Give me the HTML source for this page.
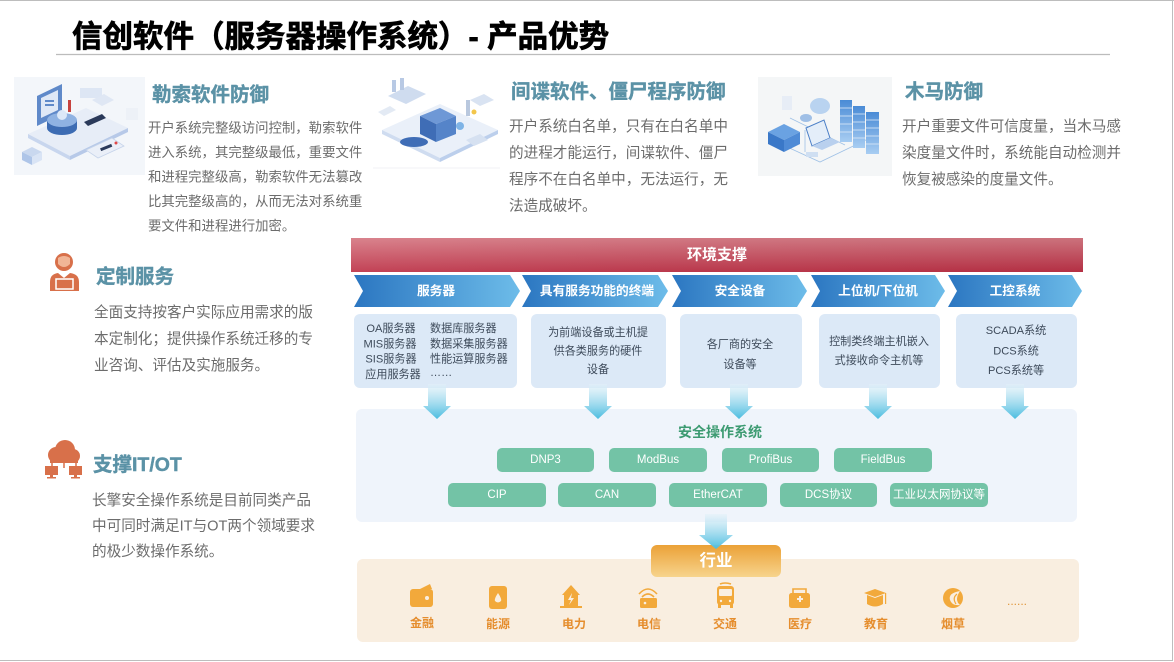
<!DOCTYPE html>
<html><head><meta charset="utf-8">
<style>
html,body{margin:0;padding:0;background:#fff;}
svg{display:block;}
text{font-family:"Liberation Sans","Noto Sans CJK SC",sans-serif;}
.ttl{font-size:30.5px;font-weight:bold;fill:#000;stroke:#000;stroke-width:0.7px;}
.h{font-size:19.5px;font-weight:bold;fill:#5b92a6;stroke:#5b92a6;stroke-width:0.4px;}
.b1{font-size:13.4px;fill:#6c6c6c;}
.b2{font-size:14.6px;fill:#6c6c6c;}
.ch{font-size:12.7px;font-weight:bold;fill:#fff;}
.bx{font-size:11.1px;fill:#3d4a5a;}
.pl{font-size:11.5px;fill:#fff;}
.ind{font-size:12px;font-weight:bold;fill:#e58d2d;}
</style></head>
<body>
<svg width="1174" height="662" viewBox="0 0 1174 662" xmlns="http://www.w3.org/2000/svg">
<defs>
<linearGradient id="gRed" x1="0" y1="0" x2="0" y2="1">
<stop offset="0" stop-color="#d67883"/><stop offset="1" stop-color="#bd3247"/>
</linearGradient>
<linearGradient id="gRedH" x1="0" y1="0" x2="1" y2="0">
<stop offset="0" stop-color="#ffffff" stop-opacity="0.08"/><stop offset="1" stop-color="#000" stop-opacity="0.05"/>
</linearGradient>
<linearGradient id="gBlue" x1="0" y1="0" x2="1" y2="0">
<stop offset="0" stop-color="#2b76c1"/><stop offset="1" stop-color="#6dbce9"/>
</linearGradient>
<linearGradient id="gArr" x1="0" y1="0" x2="0" y2="1">
<stop offset="0" stop-color="#e3f1f9" stop-opacity="0.6"/><stop offset="1" stop-color="#4bbde0"/>
</linearGradient>
<linearGradient id="gOr" x1="0" y1="0" x2="0" y2="1">
<stop offset="0" stop-color="#eba137"/><stop offset="1" stop-color="#f7d48d"/>
</linearGradient>
<linearGradient id="gSrv" x1="0" y1="0" x2="0" y2="1">
<stop offset="0" stop-color="#4a8bd6"/><stop offset="1" stop-color="#a8cdf2"/>
</linearGradient>
</defs>

<!-- frame -->
<line x1="0" y1="0.5" x2="1174" y2="0.5" stroke="#bdbdbd" stroke-width="1"/>
<line x1="1172.5" y1="0" x2="1172.5" y2="661" stroke="#bdbdbd" stroke-width="1"/>
<line x1="0" y1="660.5" x2="1173" y2="660.5" stroke="#bdbdbd" stroke-width="1"/>

<!-- title -->
<text class="ttl" x="72" y="37" dominant-baseline="central">信创软件（服务器操作系统）- 产品优势</text>
<line x1="56" y1="54.5" x2="1110" y2="54.5" stroke="#bcbcbc" stroke-width="1.3"/>

<!-- illustration 1 -->
<rect x="14" y="77" width="131" height="98" fill="#f3f6fa"/>
<polygon points="28,134 86,108 128,128 70,156" fill="#e7edf7"/>
<polygon points="28,134 70,156 70,160 28,138" fill="#c8d6ee"/>
<polygon points="70,156 128,128 128,132 70,160" fill="#b7c9e8"/>
<polygon points="37,96 62,84 62,114 37,126" fill="#5f89c9"/>
<polygon points="41,98 58,90 58,110 41,118" fill="#dfe8f6"/>
<rect x="45" y="100" width="9" height="2" fill="#5f89c9"/><rect x="45" y="104" width="9" height="2" fill="#5f89c9"/>
<ellipse cx="62" cy="128" rx="15" ry="7" fill="#3d6cb3"/>
<rect x="47" y="120" width="30" height="8" fill="#3d6cb3"/>
<ellipse cx="62" cy="120" rx="15" ry="7" fill="#8fb2e2"/>
<circle cx="62" cy="115" r="5" fill="#dce8f8"/>
<rect x="80" y="88" width="22" height="10" fill="#dde6f4"/>
<rect x="68" y="100" width="3" height="12" fill="#c7433f"/>
<polygon points="84,122 102,114 106,118 88,126" fill="#2b3a5a"/>
<polygon points="86,150 112,138 124,146 98,158" fill="#eaeff8" stroke="#c6d4ea" stroke-width="0.8"/>
<rect x="100" y="146" width="12" height="3" fill="#2b3a5a" transform="rotate(-22 106 147)"/>
<circle cx="116" cy="143" r="1.5" fill="#e04848"/>
<polygon points="22,152 32,147 42,152 32,157" fill="#c9d8ef"/>
<polygon points="22,152 32,157 32,165 22,160" fill="#aec5e8"/>
<polygon points="32,157 42,152 42,160 32,165" fill="#d9e4f5"/>
<polygon points="92,100 104,94 114,100 102,106" fill="#dfe7f4"/>
<rect x="126" y="108" width="12" height="12" fill="#edf1f7"/>

<!-- illustration 2 -->
<line x1="373" y1="168" x2="500" y2="168" stroke="#f0f2f5" stroke-width="1"/>
<polygon points="382,130 440,104 498,130 440,158" fill="#eaf0f9"/>
<polygon points="382,130 440,158 440,162 382,134" fill="#cfdcf0"/>
<polygon points="440,158 498,130 498,134 440,162" fill="#bccfec"/>
<polygon points="388,96 408,86 426,94 406,104" fill="#cfdcef"/>
<rect x="392" y="80" width="4" height="12" fill="#b8c9e4"/><rect x="400" y="78" width="4" height="12" fill="#b8c9e4"/>
<polygon points="420,116 440,108 456,116 436,124" fill="#6e98d6"/>
<polygon points="420,116 436,124 436,142 420,134" fill="#3f6db6"/>
<polygon points="436,124 456,116 456,134 436,142" fill="#5584c9"/>
<ellipse cx="414" cy="142" rx="14" ry="5" fill="#3f6db6"/>
<circle cx="460" cy="126" r="4" fill="#7fb4e6"/>
<rect x="466" y="100" width="4" height="16" fill="#b9c8de"/>
<circle cx="474" cy="112" r="2.5" fill="#f3c64a"/>
<polygon points="470,100 484,94 494,100 480,106" fill="#d9e3f2"/>
<polygon points="378,112 390,106 396,110 384,116" fill="#e3eaf4"/>
<polygon points="466,140 480,134 488,140 474,146" fill="#d6e1f1"/>

<!-- illustration 3 -->
<rect x="758" y="77" width="134" height="99" fill="#f4f6f7"/>
<path d="M772,140 L820,162 L870,138 M790,118 L845,145 M805,152 L805,130" stroke="#9fc1e6" stroke-width="0.8" fill="none"/>
<rect x="840" y="100" width="12" height="42" fill="url(#gSrv)"/>
<rect x="853" y="106" width="12" height="42" fill="url(#gSrv)"/>
<rect x="866" y="112" width="13" height="42" fill="url(#gSrv)"/>
<g stroke="#dbe9f8" stroke-width="0.8">
<line x1="840" y1="108" x2="852" y2="108"/><line x1="840" y1="116" x2="852" y2="116"/><line x1="840" y1="124" x2="852" y2="124"/><line x1="840" y1="132" x2="852" y2="132"/>
<line x1="853" y1="114" x2="865" y2="114"/><line x1="853" y1="122" x2="865" y2="122"/><line x1="853" y1="130" x2="865" y2="130"/><line x1="853" y1="138" x2="865" y2="138"/>
<line x1="866" y1="120" x2="879" y2="120"/><line x1="866" y1="128" x2="879" y2="128"/><line x1="866" y1="136" x2="879" y2="136"/><line x1="866" y1="144" x2="879" y2="144"/>
</g>
<polygon points="768,132 784,124 800,132 784,140" fill="#6aa2e2"/>
<polygon points="768,132 784,140 784,152 768,144" fill="#3a78c8"/>
<polygon points="784,140 800,132 800,144 784,152" fill="#4f8bd6"/>
<polygon points="806,128 824,120 830,138 812,146" fill="#e4eef9" stroke="#4b7fc7" stroke-width="1"/>
<polygon points="812,146 830,138 840,142 822,150" fill="#b9d0ee"/>
<ellipse cx="820" cy="106" rx="10" ry="8" fill="#b9d3f0"/>
<ellipse cx="806" cy="118" rx="6" ry="4" fill="#9fbfe6"/>
<rect x="782" y="96" width="10" height="14" fill="#e7edf6"/>
<rect x="806" y="152" width="12" height="5" fill="#cfdff2"/>

<!-- section headings & bodies -->
<text class="h" x="152" y="95" dominant-baseline="central">勒索软件防御</text>
<text class="b1" x="148" y="128" dominant-baseline="central">开户系统完整级访问控制，勒索软件</text>
<text class="b1" x="148" y="152.5" dominant-baseline="central">进入系统，其完整级最低，重要文件</text>
<text class="b1" x="148" y="177" dominant-baseline="central">和进程完整级高，勒索软件无法篡改</text>
<text class="b1" x="148" y="201.5" dominant-baseline="central">比其完整级高的，从而无法对系统重</text>
<text class="b1" x="148" y="226" dominant-baseline="central">要文件和进程进行加密。</text>

<text class="h" x="511" y="92" dominant-baseline="central">间谍软件、僵尸程序防御</text>
<text class="b2" x="509" y="127" dominant-baseline="central">开户系统白名单，只有在白名单中</text>
<text class="b2" x="509" y="153.5" dominant-baseline="central">的进程才能运行，间谍软件、僵尸</text>
<text class="b2" x="509" y="180" dominant-baseline="central">程序不在白名单中，无法运行，无</text>
<text class="b2" x="509" y="206.5" dominant-baseline="central">法造成破坏。</text>

<text class="h" x="905" y="92" dominant-baseline="central">木马防御</text>
<text class="b2" x="902" y="127" dominant-baseline="central">开户重要文件可信度量，当木马感</text>
<text class="b2" x="902" y="153.5" dominant-baseline="central">染度量文件时，系统能自动检测并</text>
<text class="b2" x="902" y="180" dominant-baseline="central">恢复被感染的度量文件。</text>

<!-- 定制服务 icon -->
<g fill="#d8704a">
<circle cx="64" cy="262" r="9"/>
<path d="M50,291 L50,282 Q50,274 58,273 L64,278 L70,273 Q79,274 79,282 L79,291 Z"/>
</g>
<path d="M58,258 Q64,254 70,258 L70,264 Q64,270 58,264 Z" fill="#f1b596"/>
<rect x="56" y="279" width="17" height="10" fill="none" stroke="#fff" stroke-width="1.5"/>
<text class="h" x="96" y="277" dominant-baseline="central">定制服务</text>
<text class="b2" x="94" y="313" dominant-baseline="central">全面支持按客户实际应用需求的版</text>
<text class="b2" x="94" y="339.5" dominant-baseline="central">本定制化；提供操作系统迁移的专</text>
<text class="b2" x="94" y="366" dominant-baseline="central">业咨询、评估及实施服务。</text>

<!-- 支撑IT/OT icon -->
<g fill="#d8704a">
<circle cx="56" cy="455" r="8"/><circle cx="65" cy="450" r="10"/><circle cx="73" cy="456" r="7"/>
<rect x="50" y="455" width="28" height="8"/>
<rect x="45" y="466" width="13" height="9"/><rect x="50" y="475" width="3" height="3"/><rect x="47" y="477" width="9" height="1.5"/>
<rect x="69" y="466" width="13" height="9"/><rect x="74" y="475" width="3" height="3"/><rect x="71" y="477" width="9" height="1.5"/>
</g>
<path d="M64,462 L64,468 M52,466 L52,462 L76,462 L76,466" stroke="#d8704a" stroke-width="1.5" fill="none"/>
<text class="h" x="93" y="465" dominant-baseline="central">支撑IT/OT</text>
<text class="b2" x="92" y="501" dominant-baseline="central">长擎安全操作系统是目前同类产品</text>
<text class="b2" x="92" y="526.5" dominant-baseline="central">中可同时满足IT与OT两个领域要求</text>
<text class="b2" x="92" y="552" dominant-baseline="central">的极少数操作系统。</text>

<!-- 环境支撑 bar -->
<rect x="351" y="238" width="732" height="34" fill="url(#gRed)"/>
<rect x="351" y="238" width="732" height="34" fill="url(#gRedH)"/>
<text x="717" y="255" dominant-baseline="central" text-anchor="middle" style="font-size:15px;font-weight:bold;fill:#fff">环境支撑</text>

<!-- chevrons -->
<polygon points="354,275 510,275 520,291 510,307 354,307 363,291" fill="url(#gBlue)"/>
<polygon points="522,275 658,275 668,291 658,307 522,307 531,291" fill="url(#gBlue)"/>
<polygon points="672,275 797,275 807,291 797,307 672,307 681,291" fill="url(#gBlue)"/>
<polygon points="811,275 935,275 945,291 935,307 811,307 820,291" fill="url(#gBlue)"/>
<polygon points="948,275 1072,275 1082,291 1072,307 948,307 957,291" fill="url(#gBlue)"/>
<text class="ch" x="436" y="291" dominant-baseline="central" text-anchor="middle">服务器</text>
<text class="ch" x="597" y="291" dominant-baseline="central" text-anchor="middle">具有服务功能的终端</text>
<text class="ch" x="740" y="291" dominant-baseline="central" text-anchor="middle">安全设备</text>
<text class="ch" x="878" y="291" dominant-baseline="central" text-anchor="middle">上位机/下位机</text>
<text class="ch" x="1015" y="291" dominant-baseline="central" text-anchor="middle">工控系统</text>

<!-- boxes -->
<rect x="354" y="314" width="163" height="74" rx="6" fill="#dce9f7"/>
<rect x="531" y="314" width="135" height="74" rx="6" fill="#dce9f7"/>
<rect x="680" y="314" width="122" height="74" rx="6" fill="#dce9f7"/>
<rect x="819" y="314" width="121" height="74" rx="6" fill="#dce9f7"/>
<rect x="956" y="314" width="121" height="74" rx="6" fill="#dce9f7"/>

<g text-anchor="middle">
<text class="bx" x="391" y="329" dominant-baseline="central">OA服务器</text>
<text class="bx" x="390" y="344.5" dominant-baseline="central">MIS服务器</text>
<text class="bx" x="391" y="359.5" dominant-baseline="central">SIS服务器</text>
<text class="bx" x="393" y="375" dominant-baseline="central">应用服务器</text>
</g>
<text class="bx" x="430" y="329" dominant-baseline="central">数据库服务器</text>
<text class="bx" x="430" y="344.5" dominant-baseline="central">数据采集服务器</text>
<text class="bx" x="430" y="359.5" dominant-baseline="central">性能运算服务器</text>
<text class="bx" x="430" y="373" dominant-baseline="central">……</text>

<g text-anchor="middle">
<text class="bx" x="598" y="333" dominant-baseline="central">为前端设备或主机提</text>
<text class="bx" x="598" y="351.5" dominant-baseline="central">供各类服务的硬件</text>
<text class="bx" x="598" y="370" dominant-baseline="central">设备</text>
<text class="bx" x="740" y="345" dominant-baseline="central">各厂商的安全</text>
<text class="bx" x="740" y="365" dominant-baseline="central">设备等</text>
<text class="bx" x="879" y="342" dominant-baseline="central">控制类终端主机嵌入</text>
<text class="bx" x="879" y="361" dominant-baseline="central">式接收命令主机等</text>
<text class="bx" x="1016" y="331" dominant-baseline="central">SCADA系统</text>
<text class="bx" x="1016" y="351.5" dominant-baseline="central">DCS系统</text>
<text class="bx" x="1016" y="371" dominant-baseline="central">PCS系统等</text>
</g>

<!-- security OS panel -->
<rect x="356" y="409" width="721" height="113" rx="6" fill="#eff4fb"/>

<!-- arrows -->
<g fill="url(#gArr)">
<path d="M428,384 L446,384 L446,406 L451,406 L437,419 L423,406 L428,406 Z"/>
<path d="M589,384 L607,384 L607,406 L612,406 L598,419 L584,406 L589,406 Z"/>
<path d="M730,384 L748,384 L748,406 L753,406 L739,419 L725,406 L730,406 Z"/>
<path d="M869,384 L887,384 L887,406 L892,406 L878,419 L864,406 L869,406 Z"/>
<path d="M1006,384 L1024,384 L1024,406 L1029,406 L1015,419 L1001,406 L1006,406 Z"/>
</g>

<text x="720" y="432" dominant-baseline="central" text-anchor="middle" style="font-size:14px;font-weight:bold;fill:#3d9b72">安全操作系统</text>

<g fill="#73c3a6">
<rect x="497" y="448" width="97" height="24" rx="5"/>
<rect x="609" y="448" width="98" height="24" rx="5"/>
<rect x="722" y="448" width="97" height="24" rx="5"/>
<rect x="834" y="448" width="98" height="24" rx="5"/>
<rect x="448" y="483" width="98" height="24" rx="5"/>
<rect x="558" y="483" width="98" height="24" rx="5"/>
<rect x="669" y="483" width="98" height="24" rx="5"/>
<rect x="780" y="483" width="97" height="24" rx="5"/>
<rect x="890" y="483" width="98" height="24" rx="5"/>
</g>
<g text-anchor="middle">
<text class="pl" x="545.5" y="460" dominant-baseline="central">DNP3</text>
<text class="pl" x="658" y="460" dominant-baseline="central">ModBus</text>
<text class="pl" x="770.5" y="460" dominant-baseline="central">ProfiBus</text>
<text class="pl" x="883" y="460" dominant-baseline="central">FieldBus</text>
<text class="pl" x="497" y="495" dominant-baseline="central">CIP</text>
<text class="pl" x="607" y="495" dominant-baseline="central">CAN</text>
<text class="pl" x="718" y="495" dominant-baseline="central">EtherCAT</text>
<text class="pl" x="828.5" y="495" dominant-baseline="central">DCS协议</text>
<text class="pl" x="939" y="495" dominant-baseline="central">工业以太网协议等</text>
</g>

<!-- industry panel -->
<rect x="357" y="559" width="722" height="83" rx="6" fill="#f9eee0"/>
<rect x="651" y="545" width="130" height="32" rx="6" fill="url(#gOr)"/>
<text x="716" y="561" dominant-baseline="central" text-anchor="middle" style="font-size:16.5px;font-weight:bold;fill:#fff">行业</text>
<path d="M705,514 L727,514 L727,535 L733,535 L716,549 L699,535 L705,535 Z" fill="url(#gArr)"/>

<!-- industry icons -->
<g fill="#f2a93b">
<rect x="410" y="589" width="23" height="18" rx="3"/>
<polygon points="420,589 430,584 432,589"/>
<rect x="489" y="586" width="18" height="23" rx="3"/>
<polygon points="562,595 571,585 580,595 578,595 578,606 564,606 564,595"/>
<rect x="560" y="606" width="22" height="2"/>
<rect x="640" y="598" width="17" height="10" rx="1.5"/>
<rect x="717" y="586" width="17" height="19" rx="3"/>
<rect x="718" y="604" width="3" height="4"/><rect x="730" y="604" width="3" height="4"/>
<rect x="789" y="593" width="21" height="15" rx="2.5"/>
<polygon points="864,593 875,589 886,593 875,597"/>
<path d="M867,595 L867,604 Q875,609 883,604 L883,595 L875,598 Z"/>
<rect x="885" y="593" width="1.2" height="11"/>
<circle cx="953" cy="598" r="10"/>
</g>
<g fill="none" stroke="#f2a93b" stroke-width="1.6">
<path d="M491,590 L505,590 M491,605 L505,605"/>
<path d="M720,584 Q725,582 731,584"/>
<path d="M793,593 L793,589 L806,589 L806,593"/>
<path d="M639,594 Q648,584 657,594"/>
<path d="M642,597 Q648,591 654,597"/>
</g>
<g fill="#f9eee0">
<circle cx="427" cy="598" r="2"/>
<path d="M498,593 Q494,599 495,601 Q498,604 501,601 Q502,599 498,593 Z"/>
<polygon points="572,593 568,600 571,600 569,605 574,598 571,598"/>
<rect x="719" y="589" width="13" height="7" rx="1"/>
<circle cx="721" cy="601" r="1.2"/><circle cx="730" cy="601" r="1.2"/>
<rect x="797" y="598" width="6" height="2"/><rect x="799" y="596" width="2" height="6"/>
<path d="M960,591 Q948,593 950,600 Q952,606 960,605 Q954,600 960,591 Z"/>
<circle cx="645" cy="603" r="1.3"/>
</g>
<path d="M957,594 Q952,598 956,604" stroke="#f2a93b" stroke-width="1.2" fill="none"/>

<g text-anchor="middle">
<text class="ind" x="422" y="623" dominant-baseline="central">金融</text>
<text class="ind" x="498" y="624" dominant-baseline="central">能源</text>
<text class="ind" x="574" y="624" dominant-baseline="central">电力</text>
<text class="ind" x="649" y="624" dominant-baseline="central">电信</text>
<text class="ind" x="725" y="624" dominant-baseline="central">交通</text>
<text class="ind" x="800" y="624" dominant-baseline="central">医疗</text>
<text class="ind" x="876" y="624" dominant-baseline="central">教育</text>
<text class="ind" x="953" y="624" dominant-baseline="central">烟草</text>
<text x="1017" y="605" text-anchor="middle" style="font-size:12px;fill:#e0963a">......</text>
</g>
</svg>
</body></html>
